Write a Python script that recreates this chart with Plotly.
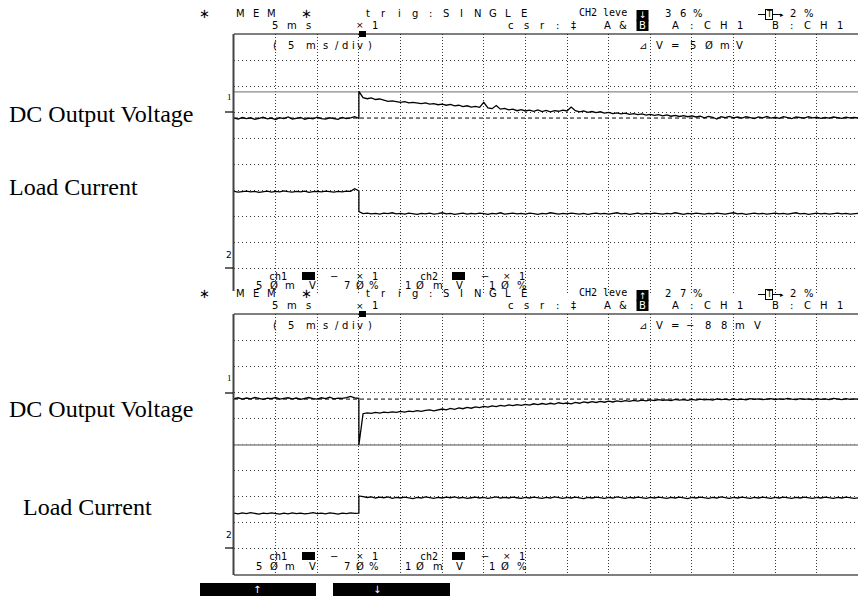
import numpy as np
import plotly.graph_objects as go

W, H = 858, 596

# ---------------- data (vertical position in divisions, 0 = bottom of screen) ----------------
sample_ms = 0.5
trigger_ms = 15.0
span_ms = 75.0

# Screen 1 : load current step down
top_v_pre = [6.78, 6.74, 6.80, 6.76, 6.79, 6.73, 6.77, 6.81, 6.75, 6.78,
             6.72, 6.79, 6.76, 6.82, 6.74, 6.77, 6.80, 6.73, 6.78, 6.75,
             6.81, 6.76, 6.74, 6.79, 6.77, 6.73, 6.80, 6.76, 6.79, 6.83,
             6.77]
top_v_post = [7.80, 7.56, 7.52, 7.55, 7.49, 7.51, 7.46, 7.42, 7.44, 7.40,
              7.38, 7.41, 7.36, 7.38, 7.35, 7.33, 7.36, 7.31, 7.33, 7.29,
              7.31, 7.27, 7.30, 7.25, 7.27, 7.22, 7.25, 7.20, 7.23, 7.19,
              7.38, 7.17, 7.14, 7.26, 7.12, 7.15, 7.09, 7.12, 7.06, 7.10,
              7.05, 7.08, 7.04, 7.09, 7.03, 7.07, 7.02, 7.06, 7.04, 7.08,
              7.05, 7.20, 7.06, 7.02, 7.05, 7.00, 7.03, 6.99, 7.02, 6.97,
              7.00, 6.95, 6.98, 6.94, 6.97, 6.92, 6.95, 6.91, 6.94, 6.89,
              6.92, 6.88, 6.91, 6.86, 6.90, 6.85, 6.88, 6.84, 6.87, 6.83,
              6.86, 6.82, 6.85, 6.79, 6.84, 6.81, 6.74, 6.83, 6.80, 6.84,
              6.79, 6.82, 6.78, 6.83, 6.80, 6.76, 6.82, 6.79, 6.84, 6.78,
              6.81, 6.77, 6.83, 6.79, 6.76, 6.82, 6.80, 6.78, 6.83, 6.79,
              6.81, 6.77, 6.80, 6.78, 6.82, 6.79, 6.77, 6.81, 6.79, 6.80,
              6.78]
top_i_pre = [3.97, 3.94, 3.96, 3.98, 3.95, 3.97, 3.93, 3.96, 3.98, 3.94,
             3.97, 3.95, 3.99, 3.96, 3.94, 3.97, 3.95, 3.98, 3.93, 3.96,
             3.97, 3.95, 3.98, 3.96, 3.94, 3.97, 3.95, 3.98, 3.97, 4.07,
             3.99]
top_i_post = [3.20, 3.12, 3.14, 3.11, 3.13, 3.10, 3.14, 3.12, 3.15, 3.11,
              3.13, 3.10, 3.14, 3.12, 3.09, 3.13, 3.11, 3.14, 3.10, 3.12,
              3.15, 3.11, 3.13, 3.09, 3.12, 3.14, 3.10, 3.13, 3.11, 3.14,
              3.12, 3.09, 3.13, 3.11, 3.15, 3.10, 3.12, 3.14, 3.11, 3.13,
              3.10, 3.14, 3.12, 3.09, 3.13, 3.11, 3.15, 3.12, 3.10, 3.13,
              3.11, 3.14, 3.12, 3.10, 3.13, 3.09, 3.12, 3.14, 3.11, 3.13,
              3.10, 3.12, 3.15, 3.11, 3.13, 3.09, 3.12, 3.14, 3.10, 3.13,
              3.11, 3.14, 3.12, 3.10, 3.13, 3.11, 3.15, 3.12, 3.09, 3.13,
              3.11, 3.14, 3.12, 3.10, 3.13, 3.11, 3.14, 3.12, 3.10, 3.13,
              3.15, 3.11, 3.13, 3.09, 3.12, 3.14, 3.11, 3.13, 3.10, 3.12,
              3.14, 3.11, 3.13, 3.10, 3.12, 3.15, 3.11, 3.13, 3.09, 3.12,
              3.14, 3.11, 3.13, 3.10, 3.12, 3.14, 3.11, 3.13, 3.10, 3.12,
              3.13]

# Screen 2 : load current step up
bot_v_pre = [6.76, 6.79, 6.74, 6.78, 6.75, 6.80, 6.77, 6.73, 6.78, 6.76,
             6.80, 6.74, 6.77, 6.79, 6.75, 6.78, 6.73, 6.77, 6.80, 6.76,
             6.74, 6.79, 6.76, 6.81, 6.75, 6.78, 6.77, 6.80, 6.84, 6.79,
             6.77]
bot_v_post = [4.98, 6.18, 6.21, 6.19, 6.23, 6.20, 6.24, 6.22, 6.25, 6.23,
              6.27, 6.24, 6.28, 6.26, 6.30, 6.27, 6.31, 6.33, 6.29, 6.34,
              6.36, 6.33, 6.38, 6.35, 6.40, 6.37, 6.42, 6.39, 6.44, 6.41,
              6.46, 6.43, 6.48, 6.45, 6.50, 6.47, 6.52, 6.49, 6.53, 6.50,
              6.54, 6.51, 6.56, 6.53, 6.57, 6.54, 6.58, 6.55, 6.60, 6.57,
              6.59, 6.56, 6.61, 6.58, 6.63, 6.60, 6.64, 6.61, 6.65, 6.62,
              6.66, 6.63, 6.67, 6.64, 6.68, 6.65, 6.69, 6.66, 6.70, 6.67,
              6.71, 6.68, 6.72, 6.69, 6.71, 6.68, 6.73, 6.70, 6.72, 6.69,
              6.73, 6.70, 6.74, 6.71, 6.73, 6.70, 6.75, 6.72, 6.74, 6.71,
              6.75, 6.72, 6.74, 6.71, 6.76, 6.73, 6.75, 6.72, 6.74, 6.76,
              6.72, 6.75, 6.73, 6.77, 6.74, 6.72, 6.76, 6.73, 6.75, 6.72,
              6.76, 6.73, 6.75, 6.72, 6.77, 6.74, 6.72, 6.76, 6.73, 6.75,
              6.74]
bot_i_pre = [2.37, 2.34, 2.38, 2.35, 2.39, 2.36, 2.33, 2.37, 2.35, 2.38,
             2.36, 2.33, 2.37, 2.34, 2.38, 2.35, 2.37, 2.34, 2.36, 2.39,
             2.35, 2.37, 2.34, 2.38, 2.36, 2.33, 2.37, 2.35, 2.38, 2.36,
             2.37]
bot_i_post = [3.03, 3.00, 2.97, 2.99, 2.95, 2.98, 2.96, 2.99, 2.94, 2.97,
              2.95, 2.98, 2.96, 2.93, 2.97, 2.95, 2.99, 2.96, 2.94, 2.97,
              2.95, 2.98, 2.96, 2.99, 2.95, 2.97, 2.94, 2.96, 2.98, 2.95,
              2.97, 2.94, 2.96, 2.99, 2.95, 2.97, 2.95, 2.98, 2.96, 2.94,
              2.97, 2.95, 2.98, 2.96, 2.94, 2.97, 2.95, 2.99, 2.96, 2.94,
              2.97, 2.95, 2.98, 2.96, 2.93, 2.97, 2.95, 2.98, 2.96, 2.94,
              2.97, 2.95, 2.99, 2.96, 2.94, 2.97, 2.95, 2.98, 2.96, 2.94,
              2.97, 2.95, 2.98, 2.96, 2.94, 2.97, 2.95, 2.98, 2.96, 2.93,
              2.97, 2.95, 2.98, 2.96, 2.94, 2.97, 2.95, 2.99, 2.96, 2.94,
              2.97, 2.95, 2.98, 2.96, 2.94, 2.97, 2.95, 2.98, 2.96, 2.94,
              2.97, 2.95, 2.98, 2.96, 2.94, 2.97, 2.95, 2.98, 2.96, 2.94,
              2.97, 2.95, 2.98, 2.96, 2.94, 2.97, 2.95, 2.98, 2.96, 2.94,
              2.96]

# cursors (divisions): A = grey solid, B = dashed
top_cursor_a, top_cursor_b = 7.78, 6.78
bot_cursor_a, bot_cursor_b = 4.98, 6.74

# header texts
top_level_pct = "36%"
bot_level_pct = "27%"
top_dv = "5Ø mV"
bot_dv = "−88mV"
channel_labels = ["DC Output Voltage", "Load Current"]

# ---------------- figure ----------------
fig = go.Figure()


def px(x):
    return x / W


def py(y):
    return 1 - y / H


def times(n, start):
    return start + sample_ms * np.arange(n)


def add_wave(pre, post, xa, ya):
    t = np.concatenate([times(len(pre), 0.0), times(len(post), trigger_ms)])
    v = np.concatenate([pre, post])
    fig.add_trace(go.Scatter(x=t, y=v, mode="lines", xaxis=xa, yaxis=ya,
                             line=dict(color="black", width=1.3),
                             showlegend=False, hoverinfo="skip"))


add_wave(top_v_pre, top_v_post, "x", "y")
add_wave(top_i_pre, top_i_post, "x", "y")
add_wave(bot_v_pre, bot_v_post, "x2", "y2")
add_wave(bot_i_pre, bot_i_post, "x2", "y2")

X0 = 234
xdom = [px(X0), 1.0]
xcommon = dict(range=[0, 74.95], tickmode="array", tickvals=list(range(5, 75, 5)),
               showticklabels=False, ticks="", showgrid=True, gridcolor="#3a3a3a",
               gridwidth=1, griddash="1px,2px", zeroline=False, showline=False)
ycommon = dict(range=[0, 10], tickmode="array", tickvals=list(range(1, 10)),
               showticklabels=False, ticks="", showgrid=True, gridcolor="#3a3a3a",
               gridwidth=1, griddash="1px,3px", zeroline=False, showline=False)

TOP_T, TOP_B = 34, 295
BOT_T, BOT_B = 314, 575

fig.update_layout(
    width=W, height=H, margin=dict(l=0, r=0, t=0, b=0),
    paper_bgcolor="white", plot_bgcolor="white", showlegend=False,
    xaxis=dict(domain=xdom, anchor="y", **xcommon),
    yaxis=dict(domain=[py(TOP_B), py(TOP_T)], anchor="x", **ycommon),
    xaxis2=dict(domain=xdom, anchor="y2", **xcommon),
    yaxis2=dict(domain=[py(BOT_B), py(BOT_T)], anchor="x2", **ycommon),
)

shapes = []
ann = []
FS = 10  # scope font size


def line(x0, y0, x1, y1, color="black", width=1, dash=None):
    d = dict(type="line", xref="paper", yref="paper", x0=px(x0), y0=py(y0),
             x1=px(x1), y1=py(y1), line=dict(color=color, width=width))
    if dash:
        d["line"]["dash"] = dash
    shapes.append(d)


def rect(x0, y0, x1, y1, color="black"):
    shapes.append(dict(type="rect", xref="paper", yref="paper", x0=px(x0), y0=py(y0),
                       x1=px(x1), y1=py(y1), fillcolor=color, line=dict(width=0)))


def txt(s, x, y, size=FS, font="DejaVu Sans", color="black", xanchor="center", **kw):
    ann.append(dict(text=s, x=px(x), y=py(y), xref="paper", yref="paper", showarrow=False,
                    xanchor=xanchor, yanchor="middle",
                    font=dict(family=font, size=size, color=color), **kw))


def chars(s, x0, pitch, y, **kw):
    for i, c in enumerate(s):
        if c != " ":
            txt(c, x0 + i * pitch, y, **kw)


# cursor lines (data coordinates)
for xr, yr, a, b in [("x", "y", top_cursor_a, top_cursor_b), ("x2", "y2", bot_cursor_a, bot_cursor_b)]:
    shapes.append(dict(type="line", xref=xr, yref=yr, x0=0, x1=74.95, y0=a, y1=a, layer="between",
                       line=dict(color="#8a8a8a", width=1.3)))
    shapes.append(dict(type="line", xref=xr, yref=yr, x0=0, x1=74.95, y0=b, y1=b, layer="between",
                       line=dict(color="black", width=1, dash="4px,3px")))

# frames
line(X0, TOP_T, W, TOP_T, width=1.2)
line(X0 - 0.5, TOP_T, X0 - 0.5, 291, color="#444", width=2)
line(X0, BOT_T, W, BOT_T, width=1.2)
line(X0, BOT_B, W, BOT_B, width=1.2)
line(X0 - 0.5, BOT_T, X0 - 0.5, BOT_B, color="#444", width=2)


def screen(dy, slope_arrow, pct, dv, ch1_mark, ch2_mark):
    # header line 1
    y1 = 13.5 + dy
    txt("∗", 204, y1, size=13)
    chars("MEM", 240, 15.5, y1)
    txt("∗", 306, y1, size=13)
    chars("trig:SINGLE", 368, 15.6, y1)
    txt("CH2 leve", 603, y1 - 1, size=10, font="DejaVu Sans Mono")
    rect(636.5, 10 + dy, 648.5, 21 + dy)
    txt(slope_arrow, 642.5, 15.5 + dy, size=9, color="white")
    chars(pct, 668, 15, y1)
    line(758, y1 + 1, 782, y1 + 1, width=1)
    txt("T", 769, y1 + 1, size=8, bgcolor="white", bordercolor="black", borderwidth=1, borderpad=0)
    txt("▸", 782, y1 + 1, size=7)
    chars("2%", 793, 16, y1)
    # header line 2
    y2 = 25.5 + dy
    chars("5ms", 275, 16.5, y2)
    txt("×", 360, y2, size=9)
    txt("1", 374.5, y2)
    chars("csr:‡", 511, 15.5, y2)
    chars("A&", 607, 16, y2)
    rect(636.5, y2 - 5.5, 648.5, y2 + 5.5)
    txt("B", 642.5, y2, color="white")
    chars("A:CH1", 675, 16.2, y2)
    chars("B:CH1", 775, 16.3, y2)
    # trigger position flag
    rect(359, 31 + dy, 366, 37 + dy)
    # time/div and delta V
    yd = 45.5 + dy
    for c, x in zip("(5ms/div)", [275, 290.5, 310.5, 325, 336.5, 345, 353.5, 360, 369.5]):
        txt(c, x, yd)
    for c, x in zip("⊿V=", [643, 659, 675]):
        txt(c, x, yd)
    xs = [692.5, 708.5, 725, 739] if len(dv.replace(" ", "")) == 4 else [690, 707.5, 724, 740, 757.5]
    for c, x in zip(dv.replace(" ", ""), xs):
        txt(c, x, yd)
    # channel ground markers
    txt("1", 229, ch1_mark - 15, size=9, font="Liberation Serif")
    line(225, ch1_mark, 233, ch1_mark, width=1.2)
    txt("2", 229, ch2_mark - 13, size=9)
    line(225, ch2_mark, 233, ch2_mark, width=1.2)
    # channel settings rows
    r1 = 276 + dy
    r2 = 286 + dy
    txt("ch1", 278, r1, size=10, font="DejaVu Sans Mono")
    rect(302, r1 - 4, 315, r1 + 4)
    txt("−", 333.5, r1)
    txt("×", 360, r1, size=9)
    txt("1", 374.5, r1)
    txt("ch2", 429, r1, size=10, font="DejaVu Sans Mono")
    rect(452, r1 - 4, 465, r1 + 4)
    txt("−", 485, r1)
    txt("×", 506.5, r1, size=9)
    txt("1", 521.5, r1)
    for c, x in zip("5ØmV", [259, 273.5, 290, 312]):
        txt(c, x, r2)
    for c, x in zip("7Ø%", [346.5, 360, 373.5]):
        txt(c, x, r2)
    for c, x in zip("1ØmV", [407.5, 420, 438, 459]):
        txt(c, x, r2)
    for c, x in zip("1Ø%", [491.5, 505, 521.5]):
        txt(c, x, r2)


screen(0, "↓", top_level_pct, top_dv, 112, 268)
screen(280, "↑", bot_level_pct, bot_dv, 393, 548)

# left labels
txt(channel_labels[0], 7, 114, size=24, font="Liberation Serif", xanchor="left")
txt(channel_labels[1], 7, 187, size=24, font="Liberation Serif", xanchor="left")
txt(channel_labels[0], 7, 409, size=24, font="Liberation Serif", xanchor="left")
txt(channel_labels[1], 21, 507, size=24, font="Liberation Serif", xanchor="left")

# bottom soft-key bars
rect(200, 583, 316, 597)
rect(333, 583, 450, 597)
txt("↑", 257, 589, size=10, color="white")
txt("↓", 377, 589, size=10, color="white")

fig.update_layout(shapes=shapes, annotations=ann)
fig.write_html("out.html", config={"displayModeBar": False},
               post_script="document.body.style.margin='0';document.body.style.padding='0';")
